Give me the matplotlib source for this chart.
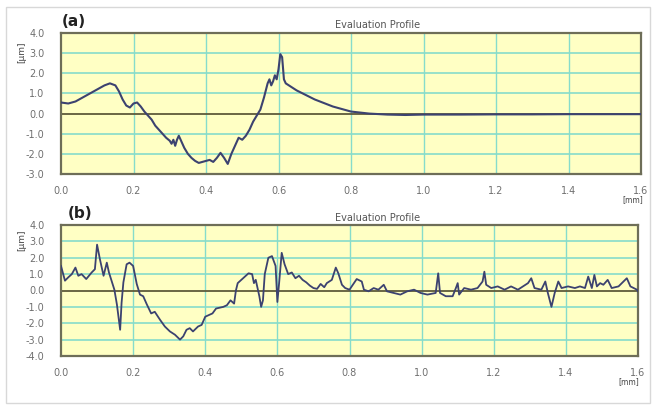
import matplotlib
matplotlib.use("Agg")
import matplotlib.pyplot as plt
from matplotlib.patches import Rectangle

# ---- data (a) ----
xa = [0.00, 0.02, 0.04, 0.06, 0.08, 0.10, 0.12, 0.135, 0.15, 0.16, 0.17, 0.18, 0.19, 0.20,
      0.21, 0.22, 0.23, 0.24, 0.25, 0.26, 0.27, 0.28, 0.29, 0.30, 0.305, 0.31, 0.315, 0.32,
      0.325, 0.33, 0.34, 0.35, 0.36, 0.37, 0.38, 0.39, 0.40, 0.41, 0.42, 0.43, 0.44, 0.45,
      0.46, 0.47, 0.48, 0.49, 0.50, 0.51, 0.52, 0.53, 0.54, 0.55, 0.56, 0.57, 0.575, 0.58,
      0.585, 0.59, 0.595, 0.60, 0.605, 0.61, 0.615, 0.62, 0.65, 0.70, 0.75, 0.80, 0.85,
      0.90, 0.95, 1.00, 1.10, 1.20, 1.30, 1.40, 1.50, 1.60]
ya = [0.55, 0.50, 0.60, 0.80, 1.00, 1.20, 1.40, 1.50, 1.40, 1.10, 0.70, 0.40, 0.30, 0.50,
      0.55, 0.35, 0.10, -0.10, -0.30, -0.60, -0.80, -1.00, -1.20, -1.35, -1.50, -1.30, -1.60, -1.30,
      -1.10, -1.30, -1.70, -2.00, -2.20, -2.35, -2.45, -2.40, -2.35, -2.30, -2.40, -2.20, -1.95, -2.20,
      -2.50, -2.00, -1.60, -1.20, -1.30, -1.10, -0.80, -0.40, -0.10, 0.20, 0.80, 1.50, 1.70, 1.40,
      1.60, 1.90, 1.70, 2.20, 2.95, 2.80, 1.70, 1.50, 1.15, 0.70, 0.35, 0.10, 0.00,
      -0.05, -0.07, -0.05, -0.05, -0.04, -0.04, -0.03, -0.03, -0.03]

# ---- data (b) ----
xb = [0.000, 0.011, 0.020, 0.030, 0.040, 0.048, 0.057, 0.070, 0.085, 0.094, 0.100, 0.108,
      0.118, 0.127, 0.133, 0.140, 0.148, 0.155, 0.164, 0.168, 0.173, 0.182, 0.190, 0.200,
      0.210, 0.219, 0.228, 0.238, 0.250, 0.260, 0.275, 0.288, 0.302, 0.316, 0.330, 0.339,
      0.348, 0.357, 0.366, 0.380, 0.390, 0.400, 0.420, 0.430, 0.450, 0.460, 0.470, 0.480,
      0.485, 0.490, 0.500, 0.520, 0.530, 0.535, 0.540, 0.550, 0.555, 0.560, 0.565, 0.575,
      0.585, 0.595, 0.600, 0.605, 0.612, 0.620, 0.630, 0.640, 0.650, 0.660, 0.670, 0.680,
      0.690, 0.700, 0.710, 0.720, 0.730, 0.737, 0.751, 0.762, 0.769, 0.779, 0.788, 0.800,
      0.820, 0.834, 0.840, 0.853, 0.867, 0.880, 0.895, 0.904, 0.923, 0.941, 0.960, 0.979,
      0.997, 1.016, 1.039, 1.046, 1.051, 1.067, 1.086, 1.095, 1.100, 1.104, 1.118, 1.137,
      1.155, 1.169, 1.174, 1.179, 1.193, 1.211, 1.230, 1.248, 1.267, 1.281, 1.295, 1.304,
      1.313, 1.332, 1.343, 1.350, 1.360, 1.369, 1.379, 1.388, 1.406, 1.425, 1.439, 1.453,
      1.462, 1.472, 1.479, 1.486, 1.495, 1.504, 1.516, 1.527, 1.546, 1.560, 1.569, 1.579,
      1.597, 1.600]
yb = [1.50, 0.60, 0.80, 1.00, 1.40, 0.90, 1.00, 0.70, 1.10, 1.30, 2.80, 1.90,
      0.90, 1.70, 1.10, 0.60, 0.05, -0.85, -2.40, -0.75, 0.50, 1.60, 1.70, 1.50,
      0.40, -0.25, -0.35, -0.85, -1.40, -1.30, -1.80, -2.20, -2.50, -2.70, -3.00, -2.80,
      -2.40, -2.30, -2.50, -2.20, -2.10, -1.60, -1.40, -1.10, -1.00, -0.90, -0.60, -0.80,
      0.00, 0.45, 0.65, 1.05, 1.00, 0.45, 0.65, -0.35, -1.00, -0.60, 1.00, 2.00,
      2.10, 1.50, -0.70, 0.50, 2.30, 1.60, 1.00, 1.10, 0.75, 0.90, 0.65, 0.50,
      0.30, 0.15, 0.10, 0.40, 0.20, 0.45, 0.65, 1.40, 1.05, 0.35, 0.15, 0.05,
      0.70, 0.55, 0.05, -0.05, 0.15, 0.05, 0.35, -0.05, -0.15, -0.25, -0.05, 0.05,
      -0.15, -0.25, -0.15, 1.05, -0.15, -0.35, -0.35, 0.15, 0.45, -0.25, 0.15, 0.05,
      0.15, 0.55, 1.15, 0.35, 0.15, 0.25, 0.05, 0.25, 0.05, 0.25, 0.45, 0.75,
      0.15, 0.05, 0.55, -0.15, -1.00, -0.15, 0.55, 0.15, 0.25, 0.15, 0.25, 0.15,
      0.85, 0.15, 0.95, 0.25, 0.45, 0.35, 0.65, 0.15, 0.25, 0.55, 0.75, 0.25,
      0.05, -0.05]

xticks = [0.0, 0.2, 0.4, 0.6, 0.8, 1.0, 1.2, 1.4, 1.6]
xticklabels = ["0.0", "0.2", "0.4", "0.6", "0.8", "1.0", "1.2", "1.4", "1.6"]
yticks_a = [-3, -2, -1, 0, 1, 2, 3, 4]
yticks_b = [-4, -3, -2, -1, 0, 1, 2, 3, 4]

BG = "#FFFFC4"
GRID = "#86DCCB"
FRAME = "#6E6E58"
ZERO = "#5E5A3A"
LINE = "#3C4270"
TXT = "#6F6F6F"

fig = plt.figure(figsize=(6.53, 4.05), dpi=100)
fig.patch.set_facecolor("white")
fig.patches.append(Rectangle((6/653, 1 - 403/405), 644/653, 396/405,
                             transform=fig.transFigure, fill=False,
                             edgecolor="#D8D8D8", linewidth=1.0))

def style(ax, yticks, ylim):
    ax.set_facecolor(BG)
    ax.set_xlim(0, 1.6)
    ax.set_ylim(*ylim)
    ax.set_xticks(xticks)
    ax.set_xticklabels(xticklabels)
    ax.set_yticks(yticks)
    ax.set_yticklabels([f"{v:.1f}" for v in yticks])
    ax.tick_params(length=0, labelsize=7, colors=TXT, pad=12)
    ax.tick_params(axis="x", pad=9)
    for v in yticks:
        if v not in (ylim[0], ylim[1], 0):
            ax.axhline(v, color=GRID, lw=1.2, zorder=1)
    for v in xticks[1:-1]:
        ax.axvline(v, color=GRID, lw=1.0, zorder=1)
    ax.axhline(0, color=ZERO, lw=1.3, zorder=2)
    for s in ax.spines.values():
        s.set_color(FRAME)
        s.set_linewidth(1.6)

axa = fig.add_axes([61/653, 1 - 174/405, 580/653, 141/405])
style(axa, yticks_a, (-3, 4))
axa.plot(xa, ya, color=LINE, lw=1.5, zorder=3)

axb = fig.add_axes([61/653, 1 - 356/405, 577/653, 131/405])
style(axb, yticks_b, (-4, 4))
axb.plot(xb, yb, color=LINE, lw=1.3, zorder=3)

# titles and labels
fig.text(378/653, 1 - 25/405, "Evaluation Profile", ha="center", va="center",
         fontsize=7, color="#555555")
fig.text(378/653, 1 - 218/405, "Evaluation Profile", ha="center", va="center",
         fontsize=7, color="#555555")
fig.text(62/653, 1 - 22/405, "(a)", ha="left", va="center", fontsize=11,
         fontweight="bold", color="#222222")
fig.text(68/653, 1 - 213/405, "(b)", ha="left", va="center", fontsize=11,
         fontweight="bold", color="#222222")
fig.text(22/653, 1 - 52/405, "[μm]", rotation=90, ha="center", va="center",
         fontsize=6.5, color="#444444")
fig.text(22/653, 1 - 240/405, "[μm]", rotation=90, ha="center", va="center",
         fontsize=6.5, color="#444444")
fig.text(633/653, 1 - 200/405, "[mm]", ha="center", va="center",
         fontsize=5.5, color="#444444")
fig.text(629/653, 1 - 382/405, "[mm]", ha="center", va="center",
         fontsize=5.5, color="#444444")

fig.savefig("out.png", dpi=100)
